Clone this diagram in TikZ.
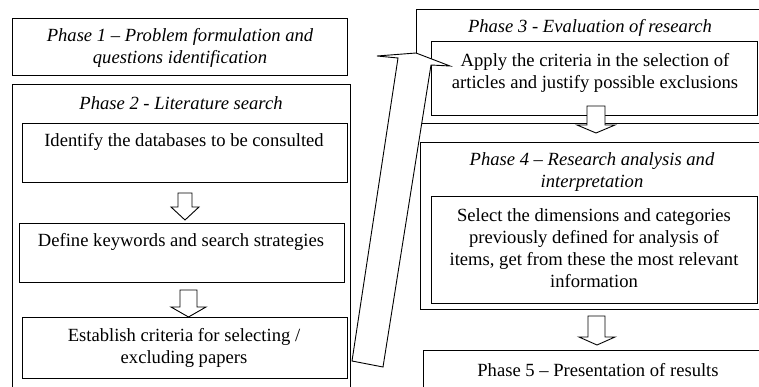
\documentclass[tikz,border=0pt]{standalone}
\usepackage{fontspec}
\setmainfont{Liberation Serif}
\begin{document}
\begin{tikzpicture}[x=1pt,y=-1pt,
  box/.style={draw, line width=1pt, inner sep=0pt, anchor=north west},
  txt/.style={font=\fontsize{18.6}{22}\selectfont, align=center, inner sep=0pt},
  ttl/.style={font=\fontsize{18.6}{22}\selectfont\itshape, align=center, inner sep=0pt},
  barrow/.style={draw, fill=white, line width=0.9pt, line join=miter}]
\useasboundingbox (0,0) rectangle (759,387);
\clip (0,0) rectangle (759,387);

% Phase 1
\node[box, minimum width=335pt, minimum height=57pt] (p1) at (12,18) {};
\node[ttl] (p1t) at (180,48) {Phase 1 -- Problem formulation and\\questions identification};

% Phase 2
\node[box, minimum width=338pt, minimum height=320pt] (p2) at (12,84) {};
\node[ttl] (p2t) at (181,103) {Phase 2 - Literature search};
\node[box, minimum width=325pt, minimum height=59pt] (b1) at (22,123) {};
\node[txt] (b1t) at (184,142) {Identify the databases to be consulted};
\node[box, minimum width=325pt, minimum height=59pt] (b2) at (19,223) {};
\node[txt] (b2t) at (181,242) {Define keywords and search strategies};
\node[box, minimum width=325pt, minimum height=61pt] (b3) at (22,317) {};
\node[txt] (b3t) at (184,348) {Establish criteria for selecting /\\excluding papers};

% small block arrows in phase 2
\coordinate (a1) at (185,193);
\draw[barrow] (a1) ++(-7,0) -- ++(0,14) -- ++(-7,0) -- (185,220) -- (199,207) -- ++(-7,0) -- ++(0,-14) -- cycle;
\coordinate (a2) at (188.5,290);
\draw[barrow] (a2) ++(-8.5,0) -- ++(0,17) -- ++(-9,0) -- (188.5,317) -- (206,307) -- ++(-9,0) -- ++(0,-17) -- cycle;

% Phase 3
\node[box, minimum width=400pt, minimum height=114pt] (p3) at (416,9) {};
\node[ttl] (p3t) at (590,28) {Phase 3 - Evaluation of research};
\node[box, minimum width=326pt, minimum height=74pt] (b4) at (431,41) {};
\node[txt] (b4t) at (595,72.5) {Apply the criteria in the selection of\\articles and justify possible exclusions};

% Phase 4
\node[box, minimum width=400pt, minimum height=167pt] (p4) at (420,142) {};
\node[ttl] (p4t) at (592,172) {Phase 4 -- Research analysis and\\interpretation};
\node[box, minimum width=326pt, minimum height=107pt] (b5) at (431,196) {};
\node[txt] (b5t) at (594,248) {Select the dimensions and categories\\previously defined for analysis of\\items, get from these the most relevant\\information};

% Phase 5
\node[box, minimum width=400pt, minimum height=60pt] (p5) at (423,350) {};
\node[txt] (p5t) at (598,370) {Phase 5 -- Presentation of results};

% arrows on the right
\draw[barrow] (587,106) -- (587,125) -- (577,125) -- (596,133) -- (615,125) -- (605,125) -- (605,106) -- cycle;
\draw[barrow] (588,316) -- (588,337) -- (579,337) -- (597,345) -- (615,337) -- (605,337) -- (605,316) -- cycle;

% long arrow from phase 2 to phase 3
\coordinate (la) at (352,361);
\coordinate (lb) at (383,367);
\draw[barrow] (la) -- (398,58) -- (377,56) -- (416,53) -- (450,66) -- (431,65) -- (lb) -- cycle;
\end{tikzpicture}
\end{document}
